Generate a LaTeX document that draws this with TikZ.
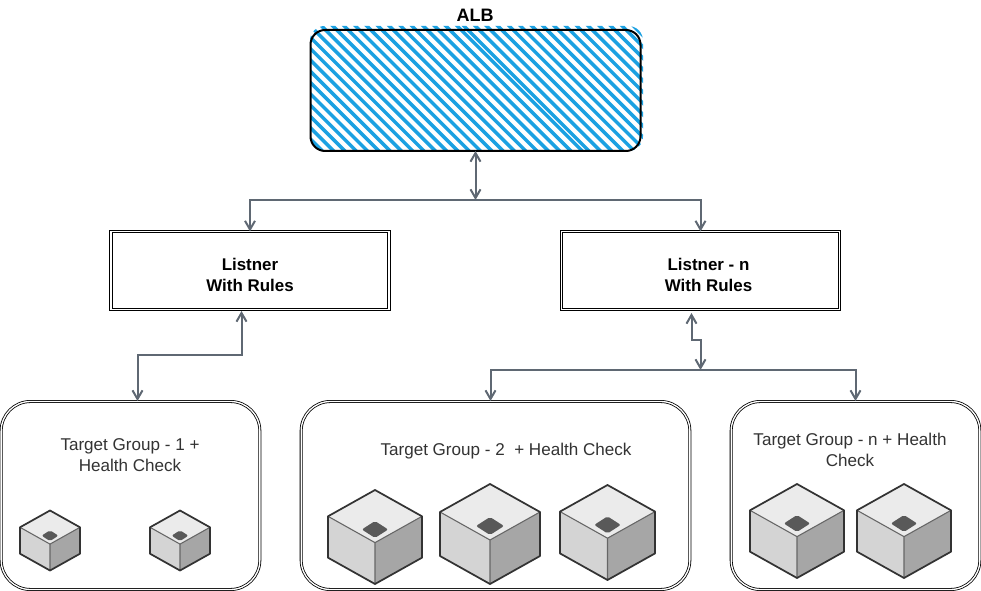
\documentclass[tikz,border=0pt]{standalone}
\usepackage{fontspec}
\setmainfont{Liberation Sans}
\usetikzlibrary{arrows.meta}
\definecolor{linkgray}{HTML}{5F6873}
\definecolor{hatchblue}{HTML}{1BA1E2}
\begin{document}
\begin{tikzpicture}[
  x=.75pt,y=-.75pt,
  >={Straight Barb[length=6.5pt,width=7.5pt]},
  link/.style={draw=linkgray,line width=1.5pt},
  listbox/.style={draw=black,double,double distance=1pt,line width=.7pt,
    inner sep=0pt,outer sep=0pt,minimum width=208.5pt,minimum height=58.5pt},
  groupbox/.style={draw=black,double,double distance=1pt,line width=.6pt,
    rounded corners=22pt,inner sep=0pt,outer sep=0pt,minimum height=141pt},
  boldtext/.style={align=center,font=\fontsize{12.7}{15.75}\selectfont\bfseries,text=black,inner sep=0pt},
  grouptext/.style={align=center,font=\fontsize{12.8}{15.75}\selectfont,text=black!80,inner sep=0pt},
  server/.pic={
    \fill[black!8] (0,0)--(50,28)--(0,56)--(-50,28)--cycle;
    \fill[black!17] (-50,28)--(0,56)--(0,100)--(-50,72)--cycle;
    \fill[black!35] (50,28)--(0,56)--(0,100)--(50,72)--cycle;
    \fill[black!65,rounded corners=1.5pt] (0,33)--(14,42)--(0,51)--(-14,42)--cycle;
    \draw[black!60,line width=.8pt] (-50,28)--(0,56)--(50,28) (0,56)--(0,100);
    \draw[black!80,line width=1.3pt,line join=round]
      (0,0)--(50,28)--(50,72)--(0,100)--(-50,72)--(-50,28)--cycle;
  }
]
  \useasboundingbox[fill=white] (0,0) rectangle (981,591);

  \begin{scope}
    \clip[rounded corners=11pt] (310,26) rectangle (643,151);
    \foreach \c in {160,171.3,...,440}
      \draw[hatchblue,line width=2.6pt,line cap=round] (\c,0)--(\c+170,170);
    \foreach \c in {438,449.3,...,640}
      \draw[hatchblue,line width=2.6pt,line cap=round] (\c,0)--(\c+170,170);
  \end{scope}
  \node[draw=black,line width=1.5pt,rounded corners=11pt,inner sep=0pt,outer sep=0pt,
    minimum width=247.5pt,minimum height=90.75pt] (alb) at (475.5,90.5) {};
  \node[boldtext,font=\fontsize{13.5}{15.75}\selectfont\bfseries] (albtext) at (475,15) {ALB};

  \node[listbox] (lone) at (250,270.5) {};
  \node[boldtext] (lonetext) at (250,275) {Listner\\With Rules};
  \node[listbox] (ln) at (700.5,270.5) {};
  \node[boldtext] (lntext) at (708.5,275) {Listner - n\\With Rules};

  \node[groupbox,minimum width=194pt] (gone) at (130.5,495.5) {};
  \node[groupbox,minimum width=291.5pt] (gtwo) at (495.5,495.5) {};
  \node[groupbox,minimum width=186.5pt] (gn) at (855.5,495.5) {};
  \node[grouptext] (gonetext) at (130,455.5) {Target Group - 1 +\\Health Check};
  \node[grouptext] (gtwotext) at (506,451) {Target Group - 2 ~+ Health Check};
  \node[grouptext] (gntext) at (850,450) {Target Group - n + Health\\Check};

  \pic[scale=.6] at (50,510.5) {server};
  \pic[scale=.6] at (180,510.5) {server};
  \pic[scale=.94] at (375,490) {server};
  \pic at (490,484) {server};
  \pic[scale=.95] at (607.5,485) {server};
  \pic[scale=.94] at (797,484) {server};
  \pic[scale=.94] at (904,484) {server};

  \coordinate (albsplit) at (475.5,200);
  \coordinate (lonefoot) at (241.5,311);
  \coordinate (lonebend) at (241.5,355);
  \coordinate (gonetop) at (137.5,401);
  \coordinate (lnfoot) at (691.5,313);
  \coordinate (lnbend) at (691.5,340);
  \coordinate (lnsplit) at (700.5,370);
  \coordinate (gtwotop) at (490.5,401);
  \coordinate (gntop) at (855.5,401);

  \draw[link,<->] (albsplit)--(alb.south -| albsplit);
  \draw[link,->] (albsplit)-|(lone.north);
  \draw[link,->] (albsplit)-|(ln.north);
  \draw[link,<->] (lonefoot)--(lonebend)-|(gonetop);
  \draw[link,<->] (lnfoot)--(lnbend)-|(lnsplit);
  \draw[link,->] (lnsplit)-|(gtwotop);
  \draw[link,->] (lnsplit)-|(gntop);
\end{tikzpicture}
\end{document}
